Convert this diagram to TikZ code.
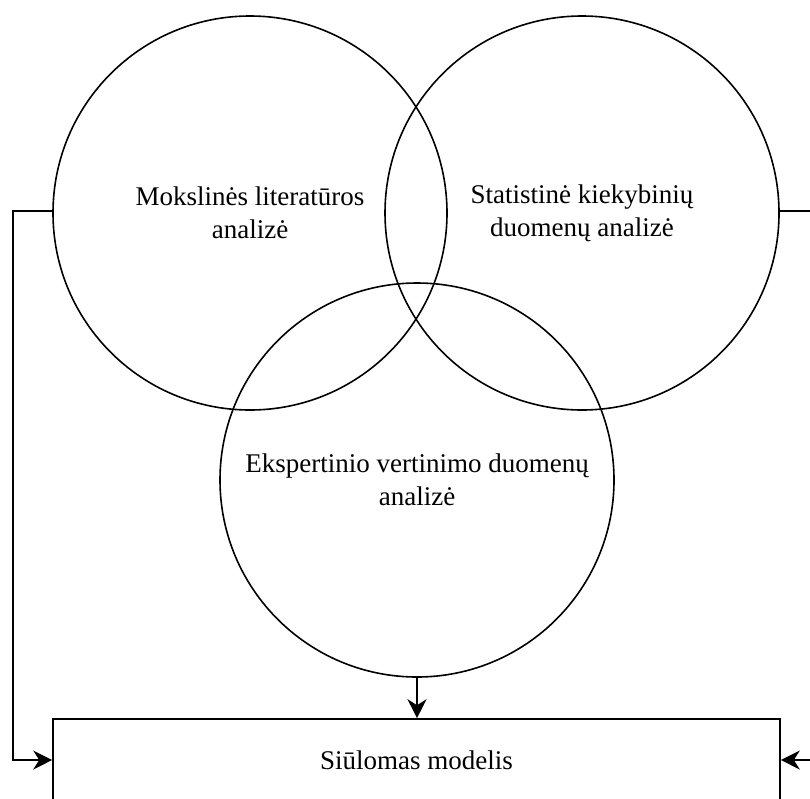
\documentclass[tikz,border=0pt]{standalone}
\usepackage{fontspec}
\setmainfont{Liberation Serif}
\usetikzlibrary{arrows.meta}
\begin{document}
\begin{tikzpicture}[x=1pt,y=-1pt,
  ring/.style={draw, line width=1.6pt, circle, minimum size=394pt, inner sep=0pt, align=center,
    font=\fontsize{27}{33}\selectfont},
  modelbox/.style={draw, line width=1.6pt, rectangle, minimum width=727pt, minimum height=82pt,
    inner sep=0pt, font=\fontsize{27}{33}\selectfont},
  link/.style={line width=1.6pt, -{Stealth[length=19pt,width=19pt,inset=6pt]}}]
  \useasboundingbox (0,0) rectangle (810,798);
  \node[ring] (lit) at (250,213) {Mokslinės literatūros\\analizė};
  \node[ring] (stat) at (582,213) {Statistinė kiekybinių\\duomenų analizė};
  \node[ring] (expert) at (417,480) {Ekspertinio vertinimo duomenų\\analizė};
  \node[modelbox] (model) at (416.5,760) {Siūlomas modelis};
  \coordinate (lbend) at (13,211);
  \coordinate (rbend) at (830,211);
  \draw[link] (lit.west |- lbend) -- (lbend) |- (model.west);
  \draw[link] (stat.east |- rbend) -- (rbend) |- (model.east);
  \draw[link] (expert.south) -- (expert.south |- model.north);
\end{tikzpicture}
\end{document}
